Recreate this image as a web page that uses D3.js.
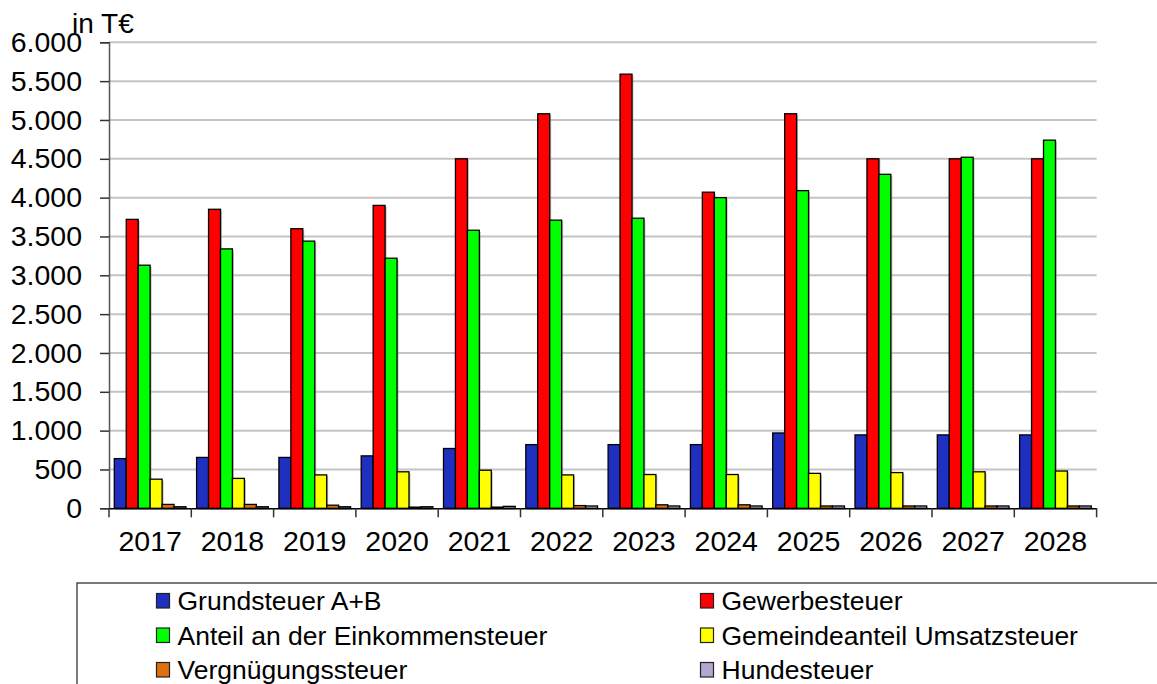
<!DOCTYPE html>
<html>
  <head>
    <meta charset="utf-8">
    <script src="https://d3js.org/d3.v7.min.js"></script>
    <style>
      body { margin: 0; background: #fff; }
      text { font-family: "Liberation Sans", Arial, sans-serif; fill: #000; }
    </style>
  </head>
  <body>
    <script>

      // data (in T€)
      const years = ["2017", "2018", "2019", "2020", "2021", "2022", "2023", "2024", "2025", "2026", "2027", "2028"];
      const seriesNames = ["Grundsteuer A+B", "Gewerbesteuer", "Anteil an der Einkommensteuer",
                           "Gemeindeanteil Umsatzsteuer", "Vergnügungssteuer", "Hundesteuer"];
      const grundsteuer = [640, 655, 655, 675, 770, 820, 820, 820, 970, 945, 945, 945];
      const gewerbesteuer = [3720, 3850, 3600, 3900, 4500, 5080, 5590, 4070, 5080, 4500, 4500, 4500];
      const einkommensteuer = [3130, 3340, 3440, 3220, 3580, 3710, 3735, 4000, 4090, 4300, 4520, 4740];
      const umsatzsteuer = [375, 385, 430, 470, 490, 430, 435, 435, 450, 460, 470, 480];
      const vergnuegung = [50, 50, 40, 15, 15, 35, 45, 45, 30, 30, 30, 30];
      const hundesteuer = [20, 20, 20, 20, 25, 30, 30, 30, 30, 30, 30, 30];
      const yTicks = [0, 500, 1000, 1500, 2000, 2500, 3000, 3500, 4000, 4500, 5000, 5500, 6000];

      const seriesValues = [grundsteuer, gewerbesteuer, einkommensteuer, umsatzsteuer, vergnuegung, hundesteuer];
      const colors = ["#1f2fbf", "#ff0000", "#00ff00", "#ffff00", "#e0700f", "#b3a6cf"];

      const width = 1157, height = 684;
      const plot = { left: 109, right: 1096.6, top: 42.3, bottom: 508.3 };

      const svg = d3.select("body").append("svg")
        .attr("width", width)
        .attr("height", height);

      const x = d3.scaleBand().domain(years).range([plot.left, plot.right]);
      const xInner = d3.scaleBand().domain(d3.range(seriesNames.length))
        .range([5.3, x.bandwidth() - 5.3]);
      const y = d3.scaleLinear().domain([0, 6000]).range([plot.bottom, plot.top]);

      // gridlines
      svg.append("g")
        .selectAll("line")
        .data(yTicks.filter(d => d > 0))
        .join("line")
        .attr("x1", plot.left)
        .attr("x2", plot.right)
        .attr("y1", d => y(d))
        .attr("y2", d => y(d))
        .attr("stroke", "#c4c4c4")
        .attr("stroke-width", 2);

      // bars
      const rows = [];
      seriesValues.forEach((vals, s) => vals.forEach((v, i) => rows.push({ s, year: years[i], v })));

      // soft shadow
      svg.append("g")
        .selectAll("rect")
        .data(rows)
        .join("rect")
        .attr("x", d => x(d.year) + xInner(d.s) + 1.5)
        .attr("y", d => y(d.v) + 1.5)
        .attr("width", xInner.bandwidth())
        .attr("height", d => y(0) - y(d.v))
        .attr("fill", "#9a9a9a")
        .attr("opacity", 0.6);

      svg.append("g")
        .selectAll("rect")
        .data(rows)
        .join("rect")
        .attr("x", d => x(d.year) + xInner(d.s))
        .attr("y", d => y(d.v))
        .attr("width", xInner.bandwidth())
        .attr("height", d => y(0) - y(d.v))
        .attr("fill", d => colors[d.s])
        .attr("stroke", "#000")
        .attr("stroke-width", 1.3);

      // y axis
      const yAxis = svg.append("g")
        .attr("transform", `translate(${plot.left},0)`)
        .call(d3.axisLeft(y).tickValues(yTicks).tickSize(9).tickPadding(18)
          .tickFormat(d => d3.format(",")(d).replace(/,/g, ".")));
      yAxis.select(".domain").attr("stroke", "#555").attr("stroke-width", 1.5);
      yAxis.selectAll(".tick line").attr("stroke", "#333").attr("stroke-width", 1.5);
      yAxis.selectAll("text").attr("font-size", 28.5).attr("font-family", "Liberation Sans, Arial, sans-serif");

      // x axis
      const xAxis = svg.append("g")
        .attr("transform", `translate(0,${plot.bottom})`)
        .call(d3.axisBottom(x).tickSize(0).tickPadding(22));
      xAxis.select(".domain").attr("stroke", "#000").attr("stroke-width", 1.5);
      xAxis.selectAll("text").attr("font-size", 28.5).attr("font-family", "Liberation Sans, Arial, sans-serif");

      // category separators
      svg.append("g")
        .selectAll("line")
        .data(years.map(d => x(d)).concat([plot.right]))
        .join("line")
        .attr("x1", d => d).attr("x2", d => d)
        .attr("y1", plot.bottom).attr("y2", plot.bottom + 9)
        .attr("stroke", "#333")
        .attr("stroke-width", 1.5);

      // unit label
      svg.append("text")
        .attr("x", 72)
        .attr("y", 33)
        .attr("font-size", 28)
        .text("in T€");

      // legend
      svg.append("rect")
        .attr("x", 77)
        .attr("y", 583)
        .attr("width", 1120)
        .attr("height", 140)
        .attr("fill", "none")
        .attr("stroke", "#333")
        .attr("stroke-width", 1.3);

      const legend = svg.append("g")
        .selectAll("g")
        .data(seriesNames)
        .join("g")
        .attr("transform", (d, i) => `translate(${i % 2 === 0 ? 156 : 700},${600.5 + Math.floor(i / 2) * 34.5})`);

      legend.append("rect")
        .attr("x", 0.5)
        .attr("y", -7)
        .attr("width", 13)
        .attr("height", 14.5)
        .attr("fill", (d, i) => colors[i])
        .attr("stroke", "#222")
        .attr("stroke-width", 1.2);

      legend.append("text")
        .attr("x", 21.5)
        .attr("dy", "0.36em")
        .attr("font-size", 26.5)
        .text(d => d);

    </script>
  </body>
</html>
